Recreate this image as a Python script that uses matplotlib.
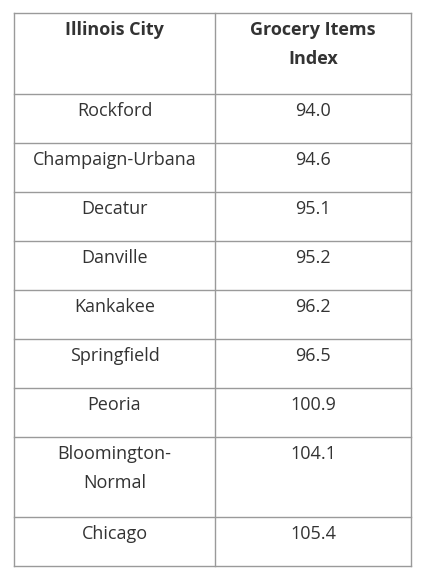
import matplotlib
matplotlib.use("Agg")
import matplotlib.pyplot as plt

plt.rcParams['font.family'] = ['Open Sans', 'DejaVu Sans']

# table data
header = ["Illinois City", "Grocery Items\nIndex"]
cities = ["Rockford", "Champaign-Urbana", "Decatur", "Danville", "Kankakee",
          "Springfield", "Peoria", "Bloomington-\nNormal", "Chicago"]
index_vals = ["94.0", "94.6", "95.1", "95.2", "96.2", "96.5", "100.9", "104.1", "105.4"]

# row boundaries in pixels
row_edges = [13, 94, 143, 192, 241, 290, 339, 388, 437, 517, 566]
col_edges = [14, 215, 411]

fig = plt.figure(figsize=(4.22, 5.80), dpi=100)
ax = fig.add_axes([0, 0, 1, 1])
ax.set_xlim(0, 422)
ax.set_ylim(580, 0)
ax.axis("off")

line_col = "#9a9a9a"
for y in row_edges:
    ax.plot([col_edges[0], col_edges[-1]], [y, y], color=line_col, lw=1)
for x in col_edges:
    ax.plot([x, x], [row_edges[0], row_edges[-1]], color=line_col, lw=1)

centers = [(col_edges[0] + col_edges[1]) / 2, (col_edges[1] + col_edges[2]) / 2]
txt_col = "#333333"

for c, h in zip(centers, header):
    ax.text(c, row_edges[0] + 8, h, ha="center", va="top", fontsize=13,
            fontweight="bold", color=txt_col, linespacing=1.75)

for i, (city, val) in enumerate(zip(cities, index_vals)):
    top = row_edges[i + 1]
    ax.text(centers[0], top + 8, city, ha="center", va="top", fontsize=13,
            color=txt_col, linespacing=1.75)
    ax.text(centers[1], top + 8, val, ha="center", va="top", fontsize=13,
            color=txt_col)

fig.savefig("out.png", dpi=100, facecolor="white")
